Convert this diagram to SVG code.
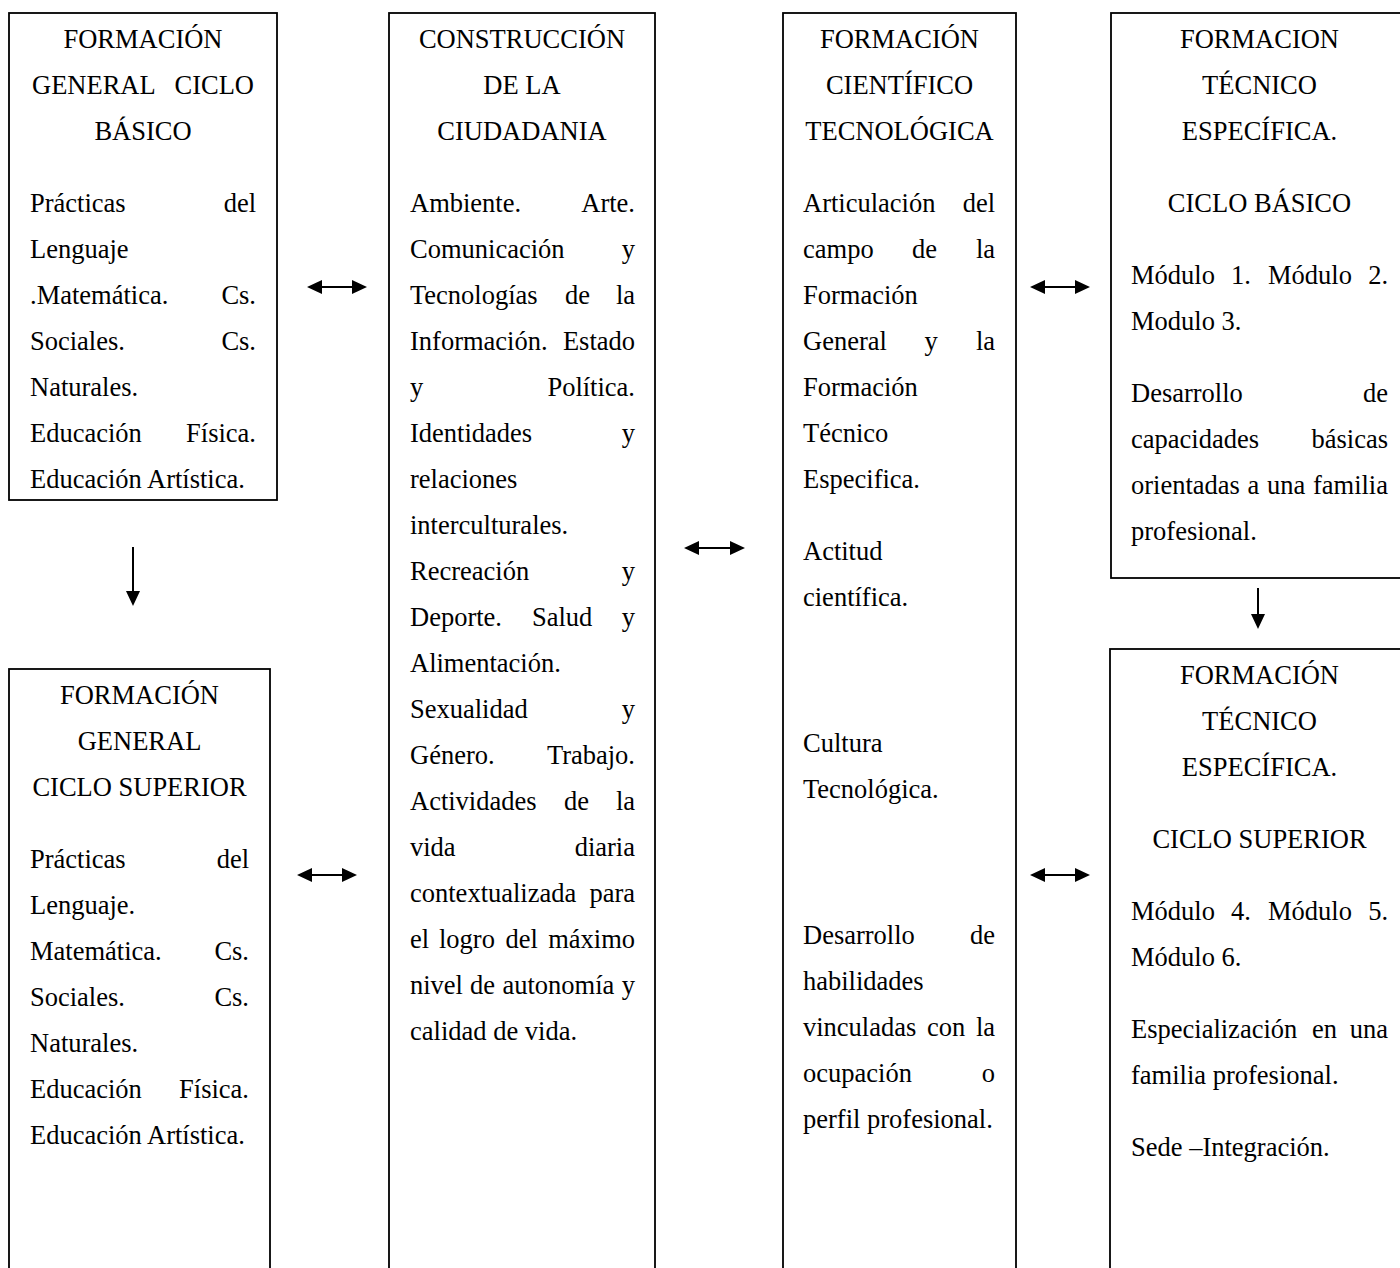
<svg xmlns="http://www.w3.org/2000/svg" width="1400" height="1268" viewBox="0 0 1400 1268">
<style>
.t{font-family:"Liberation Serif","Times New Roman",serif;font-size:26.5px;fill:#000}
.c{text-anchor:middle}
.e{text-anchor:end}
.box{fill:none;stroke:#000;stroke-width:1.8}
.ln{stroke:#000;stroke-width:2;fill:none}
</style>
<defs>
<marker id="ah" markerUnits="userSpaceOnUse" markerWidth="16" markerHeight="16" refX="5" refY="7" orient="auto-start-reverse">
<path d="M0,0 L15,7 L0,14 z" fill="#000"/>
</marker>
</defs>
<rect width="1400" height="1268" fill="#fff"/>

<g id="node-fg-basico">
<rect class="box" x="9" y="13" width="268" height="487"/>
<text class="t c" x="143" y="48">FORMACIÓN</text>
<text class="t" x="32" y="94">GENERAL</text><text class="t e" x="254" y="94">CICLO</text>
<text class="t c" x="143" y="140">BÁSICO</text>
<text class="t" x="30" y="212">Prácticas</text><text class="t e" x="256" y="212">del</text>
<text class="t" x="30" y="258">Lenguaje</text>
<text class="t" x="30" y="304">.Matemática.</text><text class="t e" x="256" y="304">Cs.</text>
<text class="t" x="30" y="350">Sociales.</text><text class="t e" x="256" y="350">Cs.</text>
<text class="t" x="30" y="396">Naturales.</text>
<text class="t" x="30" y="442">Educación</text><text class="t e" x="256" y="442">Física.</text>
<text class="t" x="30" y="488">Educación Artística.</text>
</g>

<g id="node-ciudadania">
<rect class="box" x="389" y="13" width="266" height="1290"/>
<text class="t c" x="522" y="48">CONSTRUCCIÓN</text>
<text class="t c" x="522" y="94">DE LA</text>
<text class="t c" x="522" y="140">CIUDADANIA</text>
<text class="t" x="410" y="212">Ambiente.</text><text class="t e" x="635" y="212">Arte.</text>
<text class="t" x="410" y="258">Comunicación</text><text class="t e" x="635" y="258">y</text>
<text class="t" x="410" y="304">Tecnologías</text><text class="t" x="565" y="304">de</text><text class="t e" x="635" y="304">la</text>
<text class="t" x="410" y="350">Información.</text><text class="t e" x="635" y="350">Estado</text>
<text class="t" x="410" y="396">y</text><text class="t e" x="635" y="396">Política.</text>
<text class="t" x="410" y="442">Identidades</text><text class="t e" x="635" y="442">y</text>
<text class="t" x="410" y="488">relaciones</text>
<text class="t" x="410" y="534">interculturales.</text>
<text class="t" x="410" y="580">Recreación</text><text class="t e" x="635" y="580">y</text>
<text class="t" x="410" y="626">Deporte.</text><text class="t" x="532" y="626">Salud</text><text class="t e" x="635" y="626">y</text>
<text class="t" x="410" y="672">Alimentación.</text>
<text class="t" x="410" y="718">Sexualidad</text><text class="t e" x="635" y="718">y</text>
<text class="t" x="410" y="764">Género.</text><text class="t e" x="635" y="764">Trabajo.</text>
<text class="t" x="410" y="810">Actividades</text><text class="t" x="564" y="810">de</text><text class="t e" x="635" y="810">la</text>
<text class="t" x="410" y="856">vida</text><text class="t e" x="635" y="856">diaria</text>
<text class="t" x="410" y="902">contextualizada</text><text class="t e" x="635" y="902">para</text>
<text class="t" x="410" y="948">el</text><text class="t" x="439" y="948">logro</text><text class="t" x="505.5" y="948">del</text><text class="t e" x="635" y="948">máximo</text>
<text class="t" x="410" y="994">nivel</text><text class="t" x="470" y="994">de</text><text class="t" x="502.5" y="994">autonomía</text><text class="t e" x="635" y="994">y</text>
<text class="t" x="410" y="1040">calidad de vida.</text>
</g>

<g id="node-cientifico">
<rect class="box" x="783" y="13" width="233" height="1290"/>
<text class="t c" x="899.5" y="48">FORMACIÓN</text>
<text class="t c" x="899.5" y="94">CIENTÍFICO</text>
<text class="t c" x="899.5" y="140">TECNOLÓGICA</text>
<text class="t" x="803" y="212">Articulación</text><text class="t e" x="995" y="212">del</text>
<text class="t" x="803" y="258">campo</text><text class="t" x="912" y="258">de</text><text class="t e" x="995" y="258">la</text>
<text class="t" x="803" y="304">Formación</text>
<text class="t" x="803" y="350">General</text><text class="t" x="924.5" y="350">y</text><text class="t e" x="995" y="350">la</text>
<text class="t" x="803" y="396">Formación</text>
<text class="t" x="803" y="442">Técnico</text>
<text class="t" x="803" y="488">Especifica.</text>
<text class="t" x="803" y="560">Actitud</text>
<text class="t" x="803" y="606">científica.</text>
<text class="t" x="803" y="752">Cultura</text>
<text class="t" x="803" y="798">Tecnológica.</text>
<text class="t" x="803" y="944">Desarrollo</text><text class="t e" x="995" y="944">de</text>
<text class="t" x="803" y="990">habilidades</text>
<text class="t" x="803" y="1036">vinculadas</text><text class="t" x="927" y="1036">con</text><text class="t e" x="995" y="1036">la</text>
<text class="t" x="803" y="1082">ocupación</text><text class="t e" x="995" y="1082">o</text>
<text class="t" x="803" y="1128">perfil profesional.</text>
</g>

<g id="node-te-basico">
<rect class="box" x="1111" y="13" width="300" height="565"/>
<text class="t c" x="1259.5" y="48">FORMACION</text>
<text class="t c" x="1259.5" y="94">TÉCNICO</text>
<text class="t c" x="1259.5" y="140">ESPECÍFICA.</text>
<text class="t c" x="1259.5" y="212">CICLO BÁSICO</text>
<text class="t" x="1131" y="284">Módulo</text><text class="t" x="1231" y="284">1.</text><text class="t" x="1268" y="284">Módulo</text><text class="t e" x="1388" y="284">2.</text>
<text class="t" x="1131" y="330">Modulo 3.</text>
<text class="t" x="1131" y="402">Desarrollo</text><text class="t e" x="1388" y="402">de</text>
<text class="t" x="1131" y="448">capacidades</text><text class="t e" x="1388" y="448">básicas</text>
<text class="t" x="1131" y="494">orientadas</text><text class="t" x="1247.5" y="494">a</text><text class="t" x="1267" y="494">una</text><text class="t e" x="1388" y="494">familia</text>
<text class="t" x="1131" y="540">profesional.</text>
</g>

<g id="node-fg-superior">
<rect class="box" x="9" y="669" width="261" height="640"/>
<text class="t c" x="139.5" y="704">FORMACIÓN</text>
<text class="t c" x="139.5" y="750">GENERAL</text>
<text class="t c" x="139.5" y="796">CICLO SUPERIOR</text>
<text class="t" x="30" y="868">Prácticas</text><text class="t e" x="249" y="868">del</text>
<text class="t" x="30" y="914">Lenguaje.</text>
<text class="t" x="30" y="960">Matemática.</text><text class="t e" x="249" y="960">Cs.</text>
<text class="t" x="30" y="1006">Sociales.</text><text class="t e" x="249" y="1006">Cs.</text>
<text class="t" x="30" y="1052">Naturales.</text>
<text class="t" x="30" y="1098">Educación</text><text class="t e" x="249" y="1098">Física.</text>
<text class="t" x="30" y="1144">Educación Artística.</text>
</g>

<g id="node-te-superior">
<rect class="box" x="1110" y="649" width="300" height="660"/>
<text class="t c" x="1259.5" y="684">FORMACIÓN</text>
<text class="t c" x="1259.5" y="730">TÉCNICO</text>
<text class="t c" x="1259.5" y="776">ESPECÍFICA.</text>
<text class="t c" x="1259.5" y="848">CICLO SUPERIOR</text>
<text class="t" x="1131" y="920">Módulo</text><text class="t" x="1231" y="920">4.</text><text class="t" x="1268" y="920">Módulo</text><text class="t e" x="1388" y="920">5.</text>
<text class="t" x="1131" y="966">Módulo 6.</text>
<text class="t" x="1131" y="1038">Especialización</text><text class="t" x="1312" y="1038">en</text><text class="t e" x="1388" y="1038">una</text>
<text class="t" x="1131" y="1084">familia profesional.</text>
<text class="t" x="1131" y="1156">Sede –Integración.</text>
</g>

<g id="connectors">
<line class="ln" x1="317" y1="287" x2="357" y2="287" marker-start="url(#ah)" marker-end="url(#ah)"/>
<line class="ln" x1="694" y1="548" x2="735" y2="548" marker-start="url(#ah)" marker-end="url(#ah)"/>
<line class="ln" x1="1040" y1="287" x2="1080" y2="287" marker-start="url(#ah)" marker-end="url(#ah)"/>
<line class="ln" x1="307" y1="875" x2="347" y2="875" marker-start="url(#ah)" marker-end="url(#ah)"/>
<line class="ln" x1="1040" y1="875" x2="1080" y2="875" marker-start="url(#ah)" marker-end="url(#ah)"/>
<line class="ln" x1="133" y1="547" x2="133" y2="596" marker-end="url(#ah)"/>
<line class="ln" x1="1258" y1="588" x2="1258" y2="619" marker-end="url(#ah)"/>
</g>
</svg>
